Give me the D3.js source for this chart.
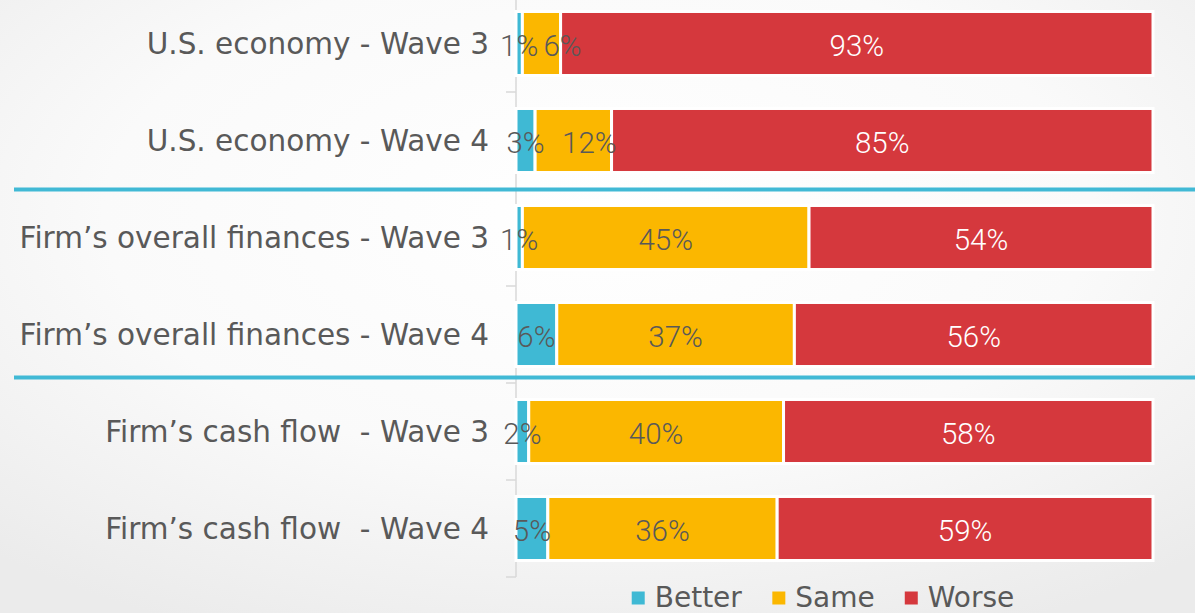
<!DOCTYPE html>
<html>
<head>
<meta charset="utf-8">
<script src="https://cdn.jsdelivr.net/npm/d3@7"></script>
<style>
  html, body { margin: 0; padding: 0; background: #fff; }
  svg { display: block; }
  text { white-space: pre; }
</style>
</head>
<body>
<svg id="chart" width="1195" height="613"></svg>
<script>
// ---- data ----
const categories = [
  "U.S. economy - Wave 3",
  "U.S. economy - Wave 4",
  "Firm\u2019s overall finances - Wave 3",
  "Firm\u2019s overall finances - Wave 4",
  "Firm\u2019s cash flow  - Wave 3",
  "Firm\u2019s cash flow  - Wave 4"
];
const seriesNames = ["Better", "Same", "Worse"];
const better = [1, 3, 1, 6.4, 2, 5];
const same   = [6, 12, 45, 37.3, 40, 36];
const worse  = [93, 85, 54, 56.3, 58, 59];
const colors = ["#3FB9D4", "#FBB700", "#D5383D"];
const labelColors = ["#595959", "#595959", "#ffffff"];

// ---- setup ----
const W = 1195, H = 613;
const svg = d3.select("#chart");

// background gradient
const defs = svg.append("defs");
const grad = defs.append("radialGradient").attr("id", "bg")
  .attr("cx", "50%").attr("cy", "35%").attr("r", "75%");
grad.append("stop").attr("offset", "0%").attr("stop-color", "#ffffff");
grad.append("stop").attr("offset", "55%").attr("stop-color", "#fafafa");
grad.append("stop").attr("offset", "100%").attr("stop-color", "#ebebeb");
svg.append("rect").attr("width", W).attr("height", H).attr("fill", "url(#bg)");

const x = d3.scaleLinear().domain([0, 100]).range([516, 1153]);
const y = d3.scaleBand().domain(categories).range([-5, 577])
  .paddingInner(0.34).paddingOuter(0.17);

const rows = categories.map((c, i) => ({ cat: c, vals: [better[i], same[i], worse[i]] }));
const stack = d3.stack().keys([0, 1, 2]).value((d, k) => d.vals[k]);
const layers = stack(rows);

const catFont = "'DejaVu Sans', Verdana, sans-serif";

// axis line + ticks at category boundaries
const axisG = svg.append("g");
const r0 = y.range()[0], step = y.step();
axisG.append("line")
  .attr("x1", x(0)).attr("x2", x(0))
  .attr("y1", r0).attr("y2", y.range()[1])
  .attr("stroke", "#d9d9d9").attr("stroke-width", 1.5);
axisG.selectAll("line.tick")
  .data(d3.range(1, categories.length + 1))
  .join("line").attr("class", "tick")
  .attr("x1", x(0) - 10).attr("x2", x(0))
  .attr("y1", i => r0 + i * step).attr("y2", i => r0 + i * step)
  .attr("stroke", "#d9d9d9").attr("stroke-width", 1.5);

// category labels
svg.append("g").selectAll("text")
  .data(categories).join("text")
  .attr("x", x(0) - 27)
  .attr("y", d => y(d) + y.bandwidth() / 2)
  .attr("dy", "0.36em")
  .attr("text-anchor", "end")
  .attr("font-family", catFont)
  .attr("font-size", 29.5)
  .attr("fill", "#595959")
  .text(d => d);

// bars
const barsG = svg.append("g");
layers.forEach((layer, k) => {
  barsG.selectAll(null).data(layer).join("rect")
    .attr("x", d => x(d[0]))
    .attr("width", d => x(d[1]) - x(d[0]))
    .attr("y", d => y(d.data.cat))
    .attr("height", y.bandwidth())
    .attr("fill", colors[k])
    .attr("stroke", "#ffffff")
    .attr("stroke-width", 3);
});

// data labels (a couple of small labels were nudged right in the original)
const nudge = { "0-1": 21, "1-1": 16 };
const fmt = d3.format(".0f");
layers.forEach((layer, k) => {
  barsG.selectAll(null).data(layer).join("text")
    .attr("x", (d, i) => (x(d[0]) + x(d[1])) / 2 + (nudge[i + "-" + k] || 0))
    .attr("y", d => y(d.data.cat) + y.bandwidth() / 2)
    .attr("dy", "0.42em")
    .attr("text-anchor", "middle")
    .attr("font-family", "Roboto, sans-serif")
    .attr("font-weight", 300)
    .attr("font-size", 29.5)
    .attr("fill", labelColors[k])
    .text(d => fmt(d[1] - d[0]) + "%");
});

// separator lines between groups
const separators = [{ after: 2, dy: 0.5 }, { after: 4, dy: -5.5 }];
svg.append("g").selectAll("line")
  .data(separators).join("line")
  .attr("x1", 14).attr("x2", W)
  .attr("y1", d => r0 + d.after * step + d.dy)
  .attr("y2", d => r0 + d.after * step + d.dy)
  .attr("stroke", "#41B9D5").attr("stroke-width", 4);

// legend
const legend = svg.append("g");
const items = legend.selectAll("g").data(seriesNames).join("g");
items.append("rect").attr("width", 13).attr("height", 13)
  .attr("y", 591.5).attr("fill", (d, i) => colors[i]);
items.append("text").attr("x", 23).attr("y", 607)
  .attr("font-family", catFont)
  .attr("font-size", 28).attr("fill", "#595959")
  .text(d => d);
const widths = [];
items.each(function () { widths.push(this.getBBox().width); });
const totalW = d3.sum(widths) + 30 * (widths.length - 1);
let lx = 823 - totalW / 2;
items.attr("transform", (d, i) => {
  const t = `translate(${lx},0)`;
  lx += widths[i] + 30;
  return t;
});
</script>
</body>
</html>
